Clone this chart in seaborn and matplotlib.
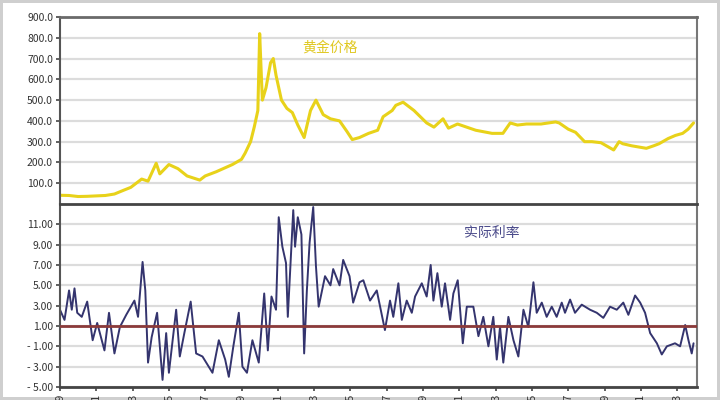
import matplotlib
matplotlib.use("Agg")
import matplotlib.pyplot as plt
import seaborn as sns
import pandas as pd

# gold price
gold_year = [1969.0, 1969.5, 1970.0, 1970.5, 1971.0, 1971.5, 1972.0, 1972.5, 1972.9, 1973.2,
             1973.5, 1973.85, 1974.3, 1974.5, 1975.0, 1975.5, 1976.0, 1976.7, 1977.0, 1977.6,
             1978.5, 1979.0, 1979.2, 1979.5, 1979.7, 1979.9, 1980.0, 1980.1, 1980.15, 1980.35,
             1980.6, 1980.75, 1980.9, 1981.2, 1981.5, 1981.8, 1982.1, 1982.45, 1982.8, 1983.1,
             1983.5, 1983.9, 1984.4, 1984.8, 1985.1, 1985.5, 1986.0, 1986.5, 1986.8, 1987.3,
             1987.5, 1987.9, 1988.2, 1988.5, 1989.2, 1989.6, 1990.1, 1990.4, 1990.9, 1991.9,
             1992.8, 1993.4, 1993.8, 1994.2, 1994.7, 1995.5, 1996.3, 1996.5, 1997.0, 1997.4,
             1997.9, 1998.3, 1998.8, 1999.5, 1999.8, 2000.0, 2000.5, 2001.3, 2001.7, 2002.0,
             2002.5, 2002.9, 2003.3, 2003.6, 2003.9]
gold_price = [42, 41, 36, 37, 39, 41, 48, 66, 80, 100,
              120, 110, 196, 145, 190, 170, 135, 115, 135, 155,
              190, 215, 245, 300, 370, 450, 820, 600, 500, 560,
              680, 700, 620, 500, 460, 440, 380, 320, 450, 500,
              430, 410, 400, 350, 310, 320, 340, 355, 420, 450,
              475, 490, 470, 450, 390, 370, 410, 365, 385, 355,
              340, 340, 390, 380, 385, 385, 395, 390, 360, 345,
              300, 300, 295, 260, 300, 290, 280, 268, 280, 290,
              315, 330, 340, 360, 390]

# real interest rate
rate_year = [1969.0, 1969.25, 1969.5, 1969.65, 1969.8, 1969.95, 1970.2, 1970.5, 1970.8, 1971.05,
             1971.45, 1971.7, 1972.0, 1972.3, 1972.65, 1973.1, 1973.3, 1973.55, 1973.7, 1973.85,
             1974.05, 1974.35, 1974.65, 1974.85, 1975.0, 1975.4, 1975.6, 1975.85, 1976.2, 1976.5,
             1976.85, 1977.4, 1977.75, 1978.1, 1978.3, 1978.55, 1978.85, 1979.05, 1979.3, 1979.6,
             1979.95, 1980.25, 1980.45, 1980.65, 1980.9, 1981.05, 1981.25, 1981.45, 1981.55, 1981.85,
             1981.95, 1982.1, 1982.3, 1982.45, 1982.6, 1982.75, 1982.95, 1983.1, 1983.25, 1983.6,
             1983.9, 1984.05, 1984.4, 1984.6, 1984.95, 1985.15, 1985.5, 1985.71, 1986.08, 1986.45,
             1986.9, 1987.18, 1987.36, 1987.64, 1987.83, 1988.1, 1988.38, 1988.56, 1988.93, 1989.2,
             1989.42, 1989.57, 1989.79, 1990.03, 1990.21, 1990.49, 1990.67, 1990.91, 1991.04, 1991.19,
             1991.41, 1991.77, 1992.05, 1992.32, 1992.6, 1992.87, 1993.06, 1993.24, 1993.42, 1993.7,
             1993.98, 1994.25, 1994.53, 1994.8, 1995.08, 1995.26, 1995.54, 1995.81, 1996.09, 1996.36,
             1996.64, 1996.82, 1997.1, 1997.37, 1997.74, 1998.2, 1998.57, 1998.93, 1999.3, 1999.67,
             2000.03, 2000.31, 2000.68, 2000.96, 2001.23, 2001.51, 2001.88, 2002.15, 2002.43, 2002.88,
             2003.16, 2003.44, 2003.62, 2003.8, 2003.9]
real_rate = [2.6, 1.6, 4.5, 2.6, 4.7, 2.3, 1.9, 3.4, -0.4, 1.3,
             -1.4, 2.3, -1.7, 0.9, 2.1, 3.5, 1.9, 7.3, 4.5, -2.6,
             -0.1, 2.3, -4.3, 0.3, -3.6, 2.6, -2.0, 0.3, 3.4, -1.7,
             -2.0, -3.6, -0.4, -2.3, -4.0, -1.0, 2.3, -3.0, -3.6, -0.4,
             -2.6, 4.2, -1.4, 3.9, 2.6, 11.7, 8.8, 7.2, 1.9, 12.4,
             8.8, 11.7, 10.0, -1.7, 4.5, 9.2, 12.7, 6.9, 2.9, 5.9,
             5.0, 6.6, 5.0, 7.5, 5.9, 3.3, 5.3, 5.5, 3.5, 4.5,
             0.6, 3.5, 1.9, 5.2, 1.6, 3.5, 2.3, 3.9, 5.2, 3.9,
             7.0, 3.5, 6.2, 2.9, 5.2, 1.6, 4.2, 5.5, 2.6, -0.7,
             2.9, 2.9, 0.0, 1.9, -1.0, 1.9, -2.3, 0.9, -2.6, 1.9,
             -0.4, -2.0, 2.6, 0.9, 5.3, 2.3, 3.3, 1.9, 2.9, 1.9,
             3.3, 2.3, 3.6, 2.3, 3.1, 2.6, 2.3, 1.8, 2.9, 2.6,
             3.3, 2.1, 4.0, 3.3, 2.3, 0.3, -0.7, -1.8, -1.0, -0.7,
             -1.0, 1.1, -0.4, -1.7, -0.7]

year_ticks = list(range(1969, 2004, 2))
gold_ticks = [100, 200, 300, 400, 500, 600, 700, 800, 900]
rate_ticks = [-5, -3, -1, 1, 3, 5, 7, 9, 11]

gold_df = pd.DataFrame({"year": gold_year, "price": gold_price})
rate_df = pd.DataFrame({"year": rate_year, "rate": real_rate})

sns.set_style("white")
plt.rcParams["font.family"] = ["Noto Sans CJK SC", "DejaVu Sans"]

fig = plt.figure(figsize=(7.2, 4.0), dpi=100)
fig.patch.set_edgecolor("#cfcfcf")
fig.patch.set_linewidth(3)
ax1 = fig.add_axes([0.0833, 0.49, 0.885, 0.4675])
ax2 = fig.add_axes([0.0833, 0.0325, 0.885, 0.4575])

xlim = (1969.0, 2004.1)

# top: gold price
sns.lineplot(data=gold_df, x="year", y="price", ax=ax1, color="#E8D21A", lw=2.2)
ax1.set_xlim(*xlim)
ax1.set_ylim(0, 900)
ax1.set_yticks(gold_ticks)
ax1.set_yticklabels([f"{v:.1f}" for v in gold_ticks])
ax1.set_xticks([])
ax1.text(1983.9, 755, "黄金价格", color="#E0C820", fontsize=10, ha="center", va="center")

# bottom: real interest rate
sns.lineplot(data=rate_df, x="year", y="rate", ax=ax2, color="#34346E", lw=1.4)
ax2.axhline(1.0, color="#8B3A3A", lw=2, zorder=3)
ax2.set_xlim(*xlim)
ax2.set_ylim(-5, 13)
ax2.set_yticks(rate_ticks)
ax2.set_yticklabels([f"{v:.2f}".replace("-", "- ") for v in rate_ticks])
ax2.set_xticks(year_ticks)
ax2.set_xticklabels([str(y) for y in year_ticks], rotation=90)
ax2.text(1992.8, 10.1, "实际利率", color="#4A4A8A", fontsize=10, ha="center", va="center")

for ax in (ax1, ax2):
    ax.set_xlabel("")
    ax.set_ylabel("")
    ax.yaxis.grid(True, color="#dcdcdc", lw=1.6)
    ax.set_axisbelow(True)
    ax.tick_params(axis="both", direction="out", length=3, width=1.2, color="#444444",
                   labelsize=7.5, labelcolor="#333333", left=True, bottom=True, pad=2)
    ax.spines["left"].set_color("#555555")
    ax.spines["left"].set_linewidth(1.5)
    ax.spines["right"].set_color("#777777")
    ax.spines["right"].set_linewidth(1.5)

ax1.spines["top"].set_color("#6a6a6a")
ax1.spines["top"].set_linewidth(2)
ax1.spines["bottom"].set_visible(False)
ax1.tick_params(axis="x", bottom=False)
ax2.spines["top"].set_color("#444444")
ax2.spines["top"].set_linewidth(2)
ax2.spines["bottom"].set_color("#444444")
ax2.spines["bottom"].set_linewidth(2)

fig.savefig("out.png", dpi=100)
plt.close(fig)
